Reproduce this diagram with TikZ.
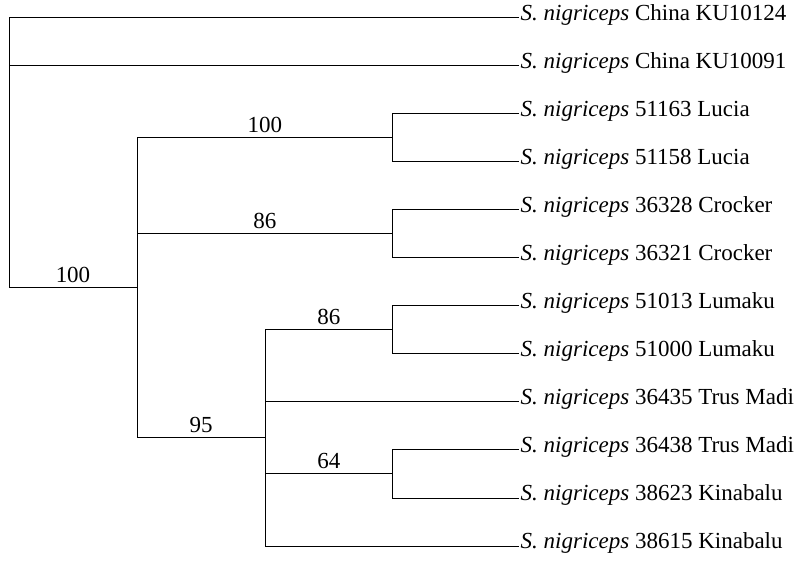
\documentclass[tikz,border=0pt]{standalone}
\usepackage{fontspec}
\setmainfont{Liberation Serif}
\begin{document}
\begin{tikzpicture}[x=1pt,y=-1pt,
  br/.style={line width=1pt, black},
  leaf/.style={anchor=west, inner ysep=0pt, inner xsep=1.5pt, font=\fontsize{23}{28}\selectfont, text height=0.7em, text depth=0.22em},
  sup/.style={above, inner sep=4.5pt, font=\fontsize{23}{28}\selectfont}]
\useasboundingbox (0,0) rectangle (812,561);
% internal nodes
\coordinate (R) at (9,153);
\coordinate (A) at (137,288);
\coordinate (B) at (392.5,138);
\coordinate (C) at (392.5,234);
\coordinate (D) at (265,438);
\coordinate (E) at (392.5,330);
\coordinate (F) at (392.5,474);
% leaves
\node[leaf] (l1) at (519,18) {\textit{S. nigriceps} China KU10124};
\node[leaf] (l2) at (519,66) {\textit{S. nigriceps} China KU10091};
\node[leaf] (l3) at (519,114) {\textit{S. nigriceps} 51163 Lucia};
\node[leaf] (l4) at (519,162) {\textit{S. nigriceps} 51158 Lucia};
\node[leaf] (l5) at (519,210) {\textit{S. nigriceps} 36328 Crocker};
\node[leaf] (l6) at (519,258) {\textit{S. nigriceps} 36321 Crocker};
\node[leaf] (l7) at (519,306) {\textit{S. nigriceps} 51013 Lumaku};
\node[leaf] (l8) at (519,354) {\textit{S. nigriceps} 51000 Lumaku};
\node[leaf] (l9) at (519,402) {\textit{S. nigriceps} 36435 Trus Madi};
\node[leaf] (l10) at (519,450) {\textit{S. nigriceps} 36438 Trus Madi};
\node[leaf] (l11) at (519,498) {\textit{S. nigriceps} 38623 Kinabalu};
\node[leaf] (l12) at (519,546) {\textit{S. nigriceps} 38615 Kinabalu};
% branches
\draw[br] (R) |- (l1.west);
\draw[br] (R) |- (l2.west);
\draw[br] (R) |- node[sup, pos=0.75] {100} (A);
\draw[br] (A) |- node[sup, pos=0.75] {100} (B);
\draw[br] (A) |- node[sup, pos=0.75] {86} (C);
\draw[br] (A) |- node[sup, pos=0.75] {95} (D);
\draw[br] (B) |- (l3.west);
\draw[br] (B) |- (l4.west);
\draw[br] (C) |- (l5.west);
\draw[br] (C) |- (l6.west);
\draw[br] (D) |- node[sup, pos=0.75] {86} (E);
\draw[br] (D) |- (l9.west);
\draw[br] (D) |- node[sup, pos=0.75] {64} (F);
\draw[br] (D) |- (l12.west);
\draw[br] (E) |- (l7.west);
\draw[br] (E) |- (l8.west);
\draw[br] (F) |- (l10.west);
\draw[br] (F) |- (l11.west);
\end{tikzpicture}
\end{document}
